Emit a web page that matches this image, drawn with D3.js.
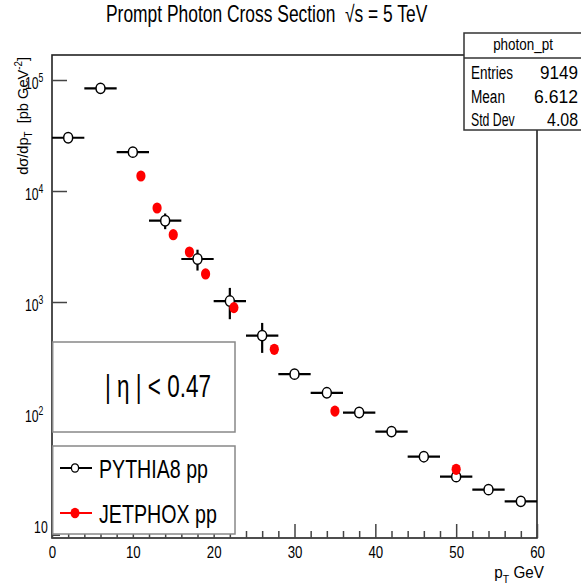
<!DOCTYPE html>
<html>
<head>
<meta charset="utf-8">
<script src="https://cdn.jsdelivr.net/npm/d3@7"></script>
<style>
  body { margin: 0; background: #fff; }
  svg { display: block; font-family: "Liberation Sans", Arial, sans-serif; }
</style>
</head>
<body>
<svg id="chart" width="581" height="588"></svg>
<script>
// values
const pythiaPt = [2, 6, 10, 14, 18, 22, 26, 30, 34, 38, 42, 46, 50, 54, 58];
const pythiaHalfBin = [2, 2, 2, 2, 2, 2, 2, 2, 2, 2, 2, 2, 2, 2, 2];
const pythiaSigma = [30200, 84100, 22400, 5400, 2440, 1020, 498, 224, 152, 101, 68, 40.4, 26.7, 20.4, 16.0];
const pythiaErr = [900, 2000, 1100, 870, 520, 320, 150, 8, 5, 3, 2, 1.2, 0.8, 0.6, 0.5];

const jetphoxPt = [11, 13, 15, 17, 19, 22.5, 27.5, 35, 50];
const jetphoxSigma = [13650, 7030, 4040, 2820, 1790, 890, 375, 104, 31.1];

const xTicks = [0, 10, 20, 30, 40, 50, 60];
const yTicks = [10, 100, 1000, 10000, 100000];
const yTickExp = ["", "2", "3", "4", "5"];

const statsNames = ["Entries", "Mean", "Std Dev"];
const statsValues = ["9149", "6.612", "4.08"];

let svg = d3.select("#chart");
let fLeft = 52, fRight = 537, fTop = 55, fBottom = 538;

let x = d3.scaleLinear().domain([0, 60]).range([fLeft, fRight]);
let y = d3.scaleLog().domain([7.48, 1.68e5]).range([fBottom, fTop]);

//squeeze a text node to the width it has in the picture
function fit(t, px, py, w, rot) {
  let len = t.node().getBBox().width;
  t.attr("transform", "translate(" + px + "," + py + ")" + (rot ? " rotate(-90)" : "") + " scale(" + (w / len) + ",1)");
  return t;
}

//frame
svg.append("rect")
  .attr("x", fLeft).attr("y", fTop)
  .attr("width", fRight - fLeft).attr("height", fBottom - fTop)
  .attr("fill", "none").attr("stroke", "#222").attr("stroke-width", 1.6);

//x axis, ticks point up into the frame
let minorX = d3.range(0, 61, 2).filter(d => d % 10 !== 0);
svg.append("g").attr("class", "xminor")
  .attr("transform", "translate(0," + fBottom + ")")
  .call(d3.axisBottom(x).tickValues(minorX).tickSizeInner(-7).tickSizeOuter(0).tickFormat(""));
let gx = svg.append("g").attr("class", "xaxis")
  .attr("transform", "translate(0," + fBottom + ")")
  .call(d3.axisBottom(x).tickValues(xTicks).tickSizeInner(-14).tickSizeOuter(0).tickPadding(7.5).tickFormat(d3.format("d")));
gx.selectAll("text").attr("font-size", 17).attr("fill", "#000").attr("transform", "scale(0.78,1)");

//y axis, log decades
let minorY = [];
for (let e = 0; e < 5; e++) {
  for (let m = 2; m < 10; m++) {
    let v = m * Math.pow(10, e);
    if (v >= 7.48 && v <= 1.68e5 && v % 10 !== 0) minorY.push(v);
  }
}
svg.append("g").attr("class", "yminor")
  .attr("transform", "translate(" + fLeft + ",0)")
  .call(d3.axisLeft(y).tickValues(minorY).tickSizeInner(-8).tickSizeOuter(0).tickFormat(""));
let gy = svg.append("g").attr("class", "yaxis")
  .attr("transform", "translate(" + fLeft + ",0)")
  .call(d3.axisLeft(y).tickValues(yTicks).tickSizeInner(-15).tickSizeOuter(0).tickPadding(6));
gy.selectAll("text").each(function(d, i) {
  let t = d3.select(this).text("10").attr("font-size", 17).attr("fill", "#000")
    .attr("dy", "0.5em").attr("transform", "scale(0.72,1)");
  if (yTickExp[i]) {
    t.attr("x", -12);
    t.append("tspan").attr("dy", -7).attr("font-size", 12).text(yTickExp[i]);
  }
});
svg.selectAll(".domain").remove();
svg.selectAll(".xaxis line, .xminor line, .yaxis line, .yminor line")
  .attr("stroke", "#444").attr("stroke-width", 1.5);

//axis titles
let yt = svg.append("text").attr("font-size", 15).attr("text-anchor", "end").attr("xml:space", "preserve");
yt.append("tspan").text("dσ/dp");
yt.append("tspan").attr("dy", 4).attr("font-size", 10).text("T");
yt.append("tspan").attr("dy", -4).text("  [pb GeV");
yt.append("tspan").attr("dy", -6).attr("font-size", 10).text("-2");
yt.append("tspan").attr("dy", 6).text("]");
fit(yt, 28, 57, 118, true);

let xt = svg.append("text").attr("font-size", 16).attr("text-anchor", "end");
xt.append("tspan").text("p");
xt.append("tspan").attr("dy", 5).attr("font-size", 11).text("T");
xt.append("tspan").attr("dy", -5).text("\u00a0GeV");
fit(xt, 544, 578, 50);

//PYTHIA8 histogram points with error bars
let pts = pythiaPt.map((p, i) => ({pt: p, hb: pythiaHalfBin[i], v: pythiaSigma[i], e: pythiaErr[i]}));
let gp = svg.append("g");
gp.selectAll(".hbar").data(pts).enter().append("line")
  .attr("x1", d => x(d.pt - d.hb)).attr("x2", d => x(d.pt + d.hb))
  .attr("y1", d => y(d.v)).attr("y2", d => y(d.v))
  .attr("stroke", "#000").attr("stroke-width", 2.2);
gp.selectAll(".vbar").data(pts).enter().append("line")
  .attr("x1", d => x(d.pt)).attr("x2", d => x(d.pt))
  .attr("y1", d => y(d.v - d.e)).attr("y2", d => y(d.v + d.e))
  .attr("stroke", "#000").attr("stroke-width", 2.2);
gp.selectAll("ellipse").data(pts).enter().append("ellipse")
  .attr("cx", d => x(d.pt)).attr("cy", d => y(d.v))
  .attr("rx", 4.5).attr("ry", 5.2)
  .attr("fill", "#fff").attr("stroke", "#000").attr("stroke-width", 1.5);

//JETPHOX points
svg.append("g").selectAll("ellipse")
  .data(jetphoxPt.map((p, i) => ({pt: p, v: jetphoxSigma[i]})))
  .enter().append("ellipse")
  .attr("cx", d => x(d.pt)).attr("cy", d => y(d.v))
  .attr("rx", 4.6).attr("ry", 5.6)
  .attr("fill", "#f00");

//eta box
svg.append("rect").attr("x", 52.7).attr("y", 342).attr("width", 182.3).attr("height", 90)
  .attr("fill", "#fff").attr("stroke", "#888").attr("stroke-width", 1.5);
let eta = svg.append("text").attr("font-size", 32).attr("xml:space", "preserve").text("| η | < 0.47");
fit(eta, 105, 397, 106);

//legend
svg.append("rect").attr("x", 52.7).attr("y", 446).attr("width", 182.3).attr("height", 88)
  .attr("fill", "#fff").attr("stroke", "#888").attr("stroke-width", 1.5);
svg.append("line").attr("x1", 60).attr("x2", 92).attr("y1", 468).attr("y2", 468)
  .attr("stroke", "#000").attr("stroke-width", 2);
svg.append("ellipse").attr("cx", 75).attr("cy", 468).attr("rx", 3.6).attr("ry", 4.2)
  .attr("fill", "#fff").attr("stroke", "#000").attr("stroke-width", 1.3);
fit(svg.append("text").attr("font-size", 26).text("PYTHIA8 pp"), 99, 478, 109);
svg.append("line").attr("x1", 60).attr("x2", 92).attr("y1", 513).attr("y2", 513)
  .attr("stroke", "#f00").attr("stroke-width", 2);
svg.append("ellipse").attr("cx", 75).attr("cy", 513).attr("rx", 4.5).attr("ry", 5.2).attr("fill", "#f00");
fit(svg.append("text").attr("font-size", 26).text("JETPHOX pp"), 99, 523, 118);

//stats box
svg.append("rect").attr("x", 464).attr("y", 33).attr("width", 130).attr("height", 97)
  .attr("fill", "#fff").attr("stroke", "#333").attr("stroke-width", 1.5);
svg.append("line").attr("x1", 464).attr("x2", 581).attr("y1", 58).attr("y2", 58)
  .attr("stroke", "#333").attr("stroke-width", 1.5);
fit(svg.append("text").attr("font-size", 17).attr("text-anchor", "middle").text("photon_pt"), 523, 50, 60);
let rowY = [79, 103, 126];
let nameW = [42, 34, 44];
let valW = [38, 44, 31];
statsNames.forEach((n, i) => {
  fit(svg.append("text").attr("font-size", 19).text(n), 471, rowY[i], nameW[i]);
  fit(svg.append("text").attr("font-size", 19).attr("text-anchor", "end").text(statsValues[i]), 578, rowY[i], valW[i]);
});

//title
let title = svg.append("text").attr("font-size", 23).attr("xml:space", "preserve")
  .text("Prompt Photon Cross Section  √s = 5 TeV");
fit(title, 106, 22, 322);
</script>
</body>
</html>
